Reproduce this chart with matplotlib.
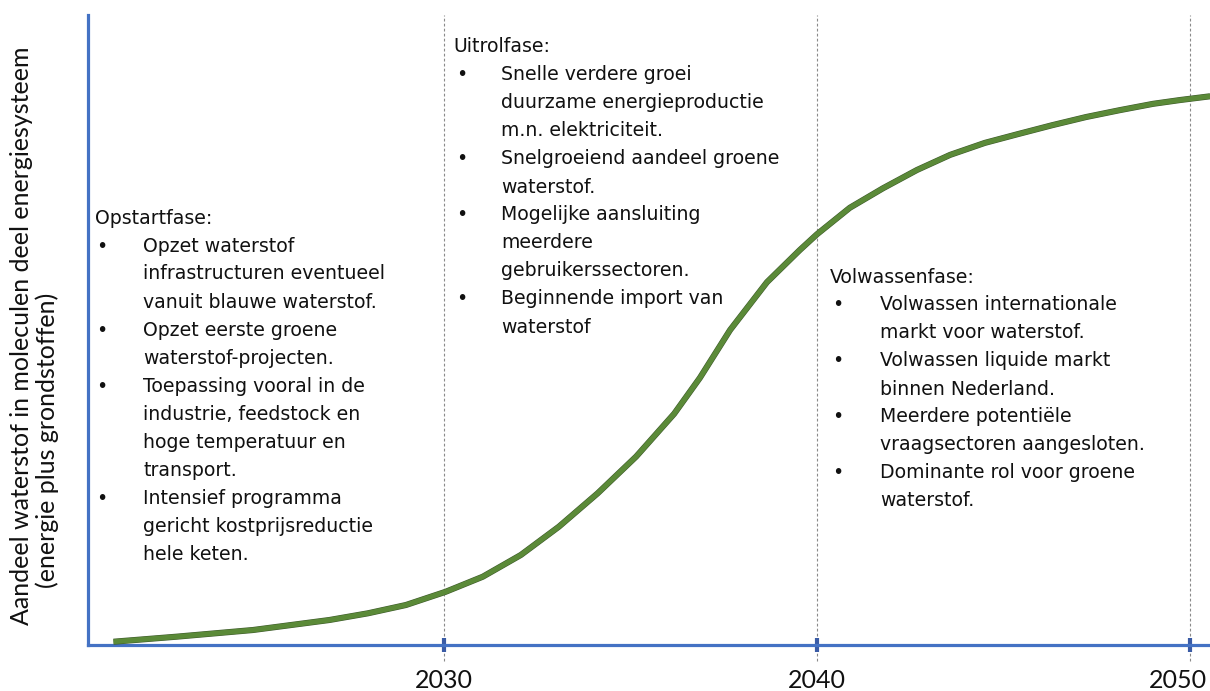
import matplotlib
matplotlib.use("Agg")
import matplotlib.pyplot as plt
import matplotlib.patheffects as pe
from matplotlib.transforms import ScaledTranslation

# ---- data ----
years = [2021.14, 2022.83, 2024.88, 2026.93, 2027.96, 2028.98, 2030.05, 2031.04,
         2032.06, 2033.08, 2034.12, 2035.15, 2036.17, 2036.86, 2037.67, 2038.66,
         2039.54, 2040.0, 2040.88, 2041.77, 2042.68, 2043.57, 2044.50, 2045.39,
         2046.30, 2047.21, 2048.12, 2049.01, 2049.73, 2050.54]
share = [0.52, 1.32, 2.38, 3.97, 5.03, 6.35, 8.46, 10.84,
         14.29, 18.78, 24.08, 29.9, 36.7, 42.4, 50.0, 57.6,
         62.7, 65.2, 69.4, 72.5, 75.4, 77.8, 79.7, 81.1,
         82.5, 83.8, 84.9, 85.9, 86.5, 87.1]
tick_years = [2030, 2040, 2050]
tick_labels = ["2030", "2040", "2050"]

ylabel_1 = "Aandeel waterstof in moleculen deel energiesysteem"
ylabel_2 = "(energie plus grondstoffen)"

phase1_title = "Opstartfase:"
phase1_items = [
    ["Opzet waterstof", "infrastructuren eventueel", "vanuit blauwe waterstof."],
    ["Opzet eerste groene", "waterstof-projecten."],
    ["Toepassing vooral in de", "industrie, feedstock en", "hoge temperatuur en", "transport."],
    ["Intensief programma", "gericht kostprijsreductie", "hele keten."],
]
phase2_title = "Uitrolfase:"
phase2_items = [
    ["Snelle verdere groei", "duurzame energieproductie", "m.n. elektriciteit."],
    ["Snelgroeiend aandeel groene", "waterstof."],
    ["Mogelijke aansluiting", "meerdere", "gebruikerssectoren."],
    ["Beginnende import van", "waterstof"],
]
phase3_title = "Volwassenfase:"
phase3_items = [
    ["Volwassen internationale", "markt voor waterstof."],
    ["Volwassen liquide markt", "binnen Nederland."],
    ["Meerdere potentiële", "vraagsectoren aangesloten."],
    ["Dominante rol voor groene", "waterstof."],
]

W, H = 1210, 691
fig = plt.figure(figsize=(W / 100, H / 100), dpi=100)
ax = fig.add_axes([88 / W, (H - 645) / H, (W - 88) / W, (645 - 15) / H])
ax.set_xlim(2020.456, 2050.536)
ax.set_ylim(0, 100)

axis_blue = "#4472C4"
for s in ["top", "right"]:
    ax.spines[s].set_visible(False)
for s in ["left", "bottom"]:
    ax.spines[s].set_color(axis_blue)
    ax.spines[s].set_linewidth(2.3)

for yr in tick_years:
    ax.axvline(yr, ymin=-0.025, ymax=1, color="#8a8a8a", lw=0.8,
               ls=(0, (2.5, 2)), clip_on=False, zorder=1)

ax.plot(years, share, color="#5B8A38", lw=3.6, solid_capstyle="butt",
        solid_joinstyle="round", zorder=3,
        path_effects=[pe.Stroke(linewidth=4.4, foreground="#3E5A2C",
                                joinstyle="round"), pe.Normal()])

ax.set_xticks(tick_years)
ax.set_xticklabels(tick_labels, fontfamily="Lato", fontsize=18)
ax.tick_params(axis="x", direction="inout", length=10, width=3, color="#3A5BA5",
               pad=12, labelcolor="#111111")
ax.set_yticks([])
last = ax.get_xticklabels()[-1]
last.set_transform(last.get_transform() + ScaledTranslation(-12 / 100, 0, fig.dpi_scale_trans))

def fx(x):
    return x / W
def fy(y):
    return 1 - y / H

fig.text(fx(22), fy(336), ylabel_1, rotation=90, ha="center", va="center",
         fontfamily="Lato", fontsize=18, color="#111111")
fig.text(fx(47), fy(440), ylabel_2, rotation=90, ha="center", va="center",
         fontfamily="Lato", fontsize=18, color="#111111")

def block(title, items, x_title, x_bullet, x_text, y0, step=28):
    fs = 13.6
    fig.text(fx(x_title), fy(y0), title, ha="left", va="center",
             fontfamily="DejaVu Sans", fontsize=fs, color="#111111")
    y = y0 + step
    for lines in items:
        fig.text(fx(x_bullet), fy(y), "•", ha="left", va="center",
                 fontfamily="DejaVu Sans", fontsize=fs, color="#111111")
        for ln in lines:
            fig.text(fx(x_text), fy(y), ln, ha="left", va="center",
                     fontfamily="DejaVu Sans", fontsize=fs, color="#111111")
            y += step

block(phase1_title, phase1_items, 95, 96, 143, 218)
block(phase2_title, phase2_items, 453, 456, 501, 47)
block(phase3_title, phase3_items, 830, 832, 880, 277)

fig.savefig("out.png", dpi=100)
